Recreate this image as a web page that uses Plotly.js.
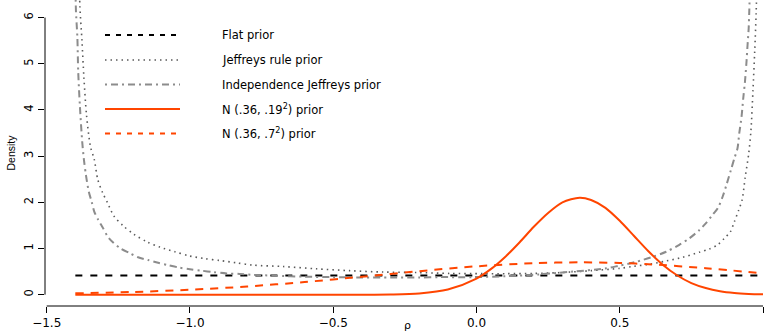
<!DOCTYPE html>
<html>
<head>
<meta charset="utf-8">
<script src="https://cdn.plot.ly/plotly-3.0.1.min.js"></script>
<style>html,body{margin:0;padding:0;background:#fff;}#chart{width:770px;height:332px;}</style>
</head>
<body>
<div id="chart"></div>
<script>
// Flat prior
const flatX = [-1.4, 1.0];
const flatY = [0.417, 0.417];

// Jeffreys rule prior
const jeffX = [-1.388, -1.384, -1.377, -1.370, -1.361, -1.347, -1.334, -1.322, -1.305, -1.287, -1.265, -1.233, -1.196, -1.149, -1.105, -1.053, -1.003, -0.948, -0.896, -0.838, -0.781, -0.675, -0.559, -0.443, -0.326, -0.21, -0.094, 0.022, 0.104, 0.2, 0.3, 0.4, 0.5, 0.545, 0.604, 0.662, 0.72, 0.778, 0.813, 0.842, 0.865, 0.886, 0.9, 0.915, 0.927, 0.938, 0.95, 0.958, 0.965, 0.971, 0.976, 0.98];
const jeffY = [7.2, 6.23, 5.51, 4.69, 3.89, 3.2, 2.93, 2.5, 2.21, 1.98, 1.70, 1.49, 1.31, 1.14, 1.03, 0.93, 0.84, 0.78, 0.74, 0.69, 0.64, 0.61, 0.56, 0.52, 0.49, 0.48, 0.46, 0.455, 0.455, 0.46, 0.48, 0.52, 0.57, 0.61, 0.66, 0.73, 0.81, 0.92, 0.99, 1.08, 1.22, 1.36, 1.58, 1.83, 2.05, 2.55, 3.05, 3.56, 4.43, 5.26, 6.09, 7.2];

// Independence Jeffreys prior
const indX = [-1.4, -1.398, -1.393, -1.390, -1.384, -1.376, -1.37, -1.363, -1.353, -1.343, -1.334, -1.32, -1.305, -1.285, -1.268, -1.242, -1.21, -1.181, -1.146, -1.111, -1.076, -1.041, -1.0, -0.96, -0.919, -0.872, -0.826, -0.78, -0.7, -0.6, -0.5, -0.4, -0.3, -0.2, -0.129, -0.013, 0.104, 0.22, 0.336, 0.453, 0.499, 0.557, 0.615, 0.662, 0.708, 0.743, 0.778, 0.801, 0.824, 0.842, 0.859, 0.874, 0.888, 0.9, 0.911, 0.917, 0.925, 0.931, 0.937, 0.942, 0.946, 0.95, 0.952, 0.956];
const indY = [7.0, 6.16, 5.58, 4.83, 4.07, 3.31, 2.92, 2.59, 2.23, 2.01, 1.80, 1.62, 1.46, 1.24, 1.13, 1.0, 0.90, 0.81, 0.75, 0.69, 0.64, 0.59, 0.55, 0.52, 0.49, 0.46, 0.45, 0.43, 0.41, 0.39, 0.38, 0.37, 0.37, 0.37, 0.38, 0.38, 0.40, 0.44, 0.50, 0.57, 0.63, 0.71, 0.82, 0.93, 1.08, 1.22, 1.40, 1.55, 1.73, 1.87, 2.12, 2.41, 2.70, 2.95, 3.17, 3.49, 3.85, 4.25, 4.61, 5.01, 5.40, 5.77, 6.13, 7.0];

// N(.36, .19^2) prior
const narrowX = [-1.4, -1.0, -0.6, -0.4, -0.3, -0.2, -0.1, 0.0, 0.05, 0.1, 0.15, 0.2, 0.25, 0.3, 0.36, 0.4, 0.45, 0.5, 0.55, 0.6, 0.65, 0.7, 0.75, 0.8, 0.85, 0.9, 0.95, 1.0];
const narrowY = [0.0, 0.0, 0.0, 0.0007, 0.005, 0.027, 0.112, 0.35, 0.553, 0.817, 1.13, 1.47, 1.77, 2.0, 2.10, 2.05, 1.88, 1.60, 1.27, 0.94, 0.65, 0.42, 0.25, 0.143, 0.075, 0.037, 0.017, 0.007];

// N(.36, .7^2) prior
const wideX = [-1.4, -1.2, -1.0, -0.8, -0.6, -0.4, -0.2, 0.0, 0.2, 0.36, 0.5, 0.6, 0.8, 1.0];
const wideY = [0.030, 0.058, 0.106, 0.177, 0.274, 0.388, 0.509, 0.614, 0.682, 0.700, 0.686, 0.660, 0.574, 0.461];

const names = ["Flat prior", "Jeffreys rule prior", "Independence Jeffreys prior", "N (.36, .19<sup>2</sup>) prior", "N (.36, .7<sup>2</sup>) prior"];
const xTicks = [-1.5, -1.0, -0.5, 0.0, 0.5, 1.0];
const xTickText = ["\u22121.5", "\u22121.0", "\u22120.5", "0.0", "0.5", "1.0"];
const yTicks = [0, 1, 2, 3, 4, 5, 6];

const orange = "#ff4500";
const styles = [
  {color: "#000", width: 2, dash: "7px,8px", legDash: "5px,6px"},
  {color: "#5a5a5a", width: 1.6, dash: "1.5px,4px", legDash: "1.5px,4px"},
  {color: "#8c8c8c", width: 2, dash: "7px,4px,2px,4px", legDash: "2px,4px,7px,4px"},
  {color: orange, width: 2, dash: "solid", legDash: "solid"},
  {color: orange, width: 2, dash: "8px,7px", legDash: "5px,6px"}
];
const series = [[flatX, flatY], [jeffX, jeffY], [indX, indY], [narrowX, narrowY], [wideX, wideY]];

const traces = series.map((s, i) => ({
  x: s[0], y: s[1], name: names[i], mode: "lines", showlegend: false,
  line: {color: styles[i].color, width: styles[i].width, dash: styles[i].dash, shape: i === 0 ? "linear" : "spline", smoothing: 0.8}
}));

const wide = "DejaVu Sans, Verdana, sans-serif";
// legend drawn manually (R-style, no box)
const plotW = 725, plotH = 306, ml = 45;
const rowPx = [35, 60, 84.5, 109, 133.5];
const legShapes = [], legAnn = [];
rowPx.forEach((py, i) => {
  const yp = 1 - py / plotH;
  legShapes.push({type: "line", xref: "paper", yref: "paper", x0: (105 - ml) / plotW, x1: (180 - ml) / plotW, y0: yp, y1: yp,
    line: {color: styles[i].color, width: styles[i].width, dash: styles[i].legDash}});
  legAnn.push({xref: "paper", yref: "paper", x: (220 - ml) / plotW, y: yp, xanchor: "left", yanchor: "middle",
    text: names[i], showarrow: false, font: {family: wide, size: 11.5, color: "#000"}});
});

const layout = {
  width: 770, height: 332,
  margin: {l: ml, r: 0, t: 0, b: 26},
  paper_bgcolor: "#fff", plot_bgcolor: "#fff",
  font: {family: "Liberation Sans, Arial, sans-serif", size: 11, color: "#000"},
  showlegend: false,
  xaxis: {range: [-1.5059, 1.0244], tickmode: "array", tickvals: xTicks, ticktext: xTickText,
          showgrid: false, zeroline: false, showline: false, ticks: "outside", ticklen: 6, tickcolor: "#000",
          tickfont: {family: wide, size: 12}, title: {text: "\u03c1", font: {family: wide, size: 11}, standoff: 8}},
  yaxis: {range: [-0.245, 6.38], tickmode: "array", tickvals: yTicks, tickangle: -90,
          showgrid: false, zeroline: false, showline: false, ticks: "outside", ticklen: 6, tickcolor: "#000",
          tickfont: {family: wide, size: 11.5}, title: {text: "Density", font: {size: 10.5}, standoff: 4}},
  shapes: [
    {type: "line", xref: "x", yref: "paper", x0: -1.5, x1: 1.0, y0: 0, y1: 0, line: {color: "#000", width: 1}},
    {type: "line", xref: "paper", yref: "y", x0: 0, x1: 0, y0: 0, y1: 6, line: {color: "#000", width: 1}}
  ].concat(legShapes),
  annotations: legAnn
};

Plotly.newPlot("chart", traces, layout, {displayModeBar: false, staticPlot: true});
</script>
</body>
</html>
